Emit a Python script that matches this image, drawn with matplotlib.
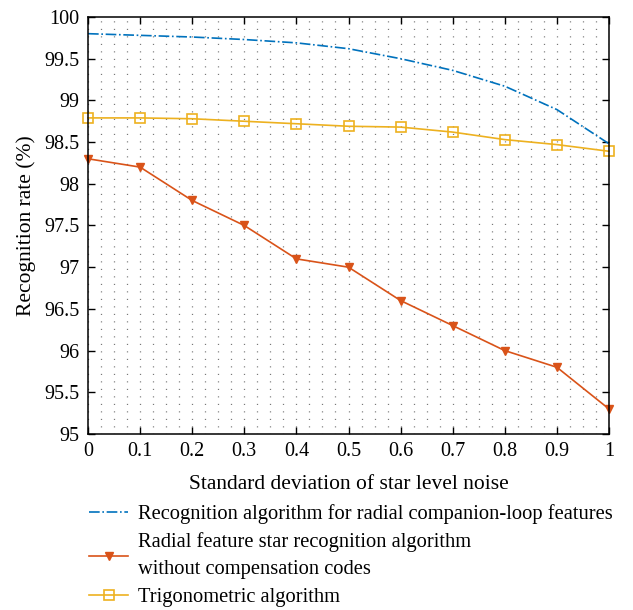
"""
Recognition rate vs. star level noise for three star identification algorithms.
"""

import numpy as np
import matplotlib.pyplot as plt
from matplotlib.ticker import MultipleLocator

plt.rcParams['font.family'] = ['Liberation Serif', 'DejaVu Serif']

noise_std = [0, 0.1, 0.2, 0.3, 0.4, 0.5, 0.6, 0.7, 0.8, 0.9, 1.0]
rate_loop = [99.80, 99.78, 99.76, 99.73, 99.69, 99.62, 99.50, 99.36, 99.17, 98.89, 98.48]
rate_radial = [98.30, 98.20, 97.80, 97.50, 97.10, 97.00, 96.60, 96.30, 96.00, 95.80, 95.30]
rate_trig = [98.79, 98.79, 98.78, 98.75, 98.72, 98.69, 98.68, 98.62, 98.53, 98.47, 98.39]

labels = [
    'Recognition algorithm for radial companion-loop features',
    'Radial feature star recognition algorithm\nwithout compensation codes',
    'Trigonometric algorithm',
]

fig = plt.figure(figsize=(6.33, 6.10), dpi=100)
ax = fig.add_axes([88 / 633, 1 - 434 / 610, (609 - 88) / 633, (434 - 17) / 610])

l1, = ax.plot(noise_std, rate_loop, color='#0072BD', linestyle='-.', linewidth=1.2,
              clip_on=False)
l2, = ax.plot(noise_std, rate_radial, color='#D95319', linewidth=1.2,
              marker='v', markersize=6, markerfacecolor='#D95319', clip_on=False)
l3, = ax.plot(noise_std, rate_trig, color='#EDB120', linewidth=1.2,
              marker='s', markersize=7, markerfacecolor='none', markeredgewidth=1.2,
              clip_on=False)

ax.set_xlim(0, 1)
ax.set_ylim(95, 100)
ax.xaxis.set_major_locator(MultipleLocator(0.1))
ax.yaxis.set_major_locator(MultipleLocator(0.5))
ax.xaxis.set_minor_locator(MultipleLocator(0.025))
ax.xaxis.set_major_formatter(plt.FuncFormatter(lambda v, p: f'{v:g}'))
ax.yaxis.set_major_formatter(plt.FuncFormatter(lambda v, p: f'{v:g}'))

ax.tick_params(which='major', direction='in', length=5, width=1,
               top=True, right=True, labelsize=14.5, pad=6)
ax.tick_params(which='minor', length=0)
# dotted vertical lines whose dots fall every 0.1 in y -> dot lattice
ax.grid(axis='x', which='both', color='#666666', linestyle=(0.3, (0.8, 5.2)),
        linewidth=0.9)
for s in ax.spines.values():
    s.set_linewidth(1.1)
    s.set_zorder(5)

ax.set_xlabel('Standard deviation of star level noise', fontsize=15.5, labelpad=10)
ax.set_ylabel('Recognition rate (%)', fontsize=15.5, labelpad=6)

leg = fig.legend([l1, l2, l3], labels, loc='upper left',
                 bbox_to_anchor=(89 / 633, 1 - 504 / 610), borderaxespad=0,
                 frameon=False, fontsize=14.8, handlelength=1.9, labelspacing=0.4,
                 handletextpad=0.5, borderpad=0)
for t in leg.get_texts():
    t.set_linespacing(1.6)

fig.savefig('out.png', dpi=100)
